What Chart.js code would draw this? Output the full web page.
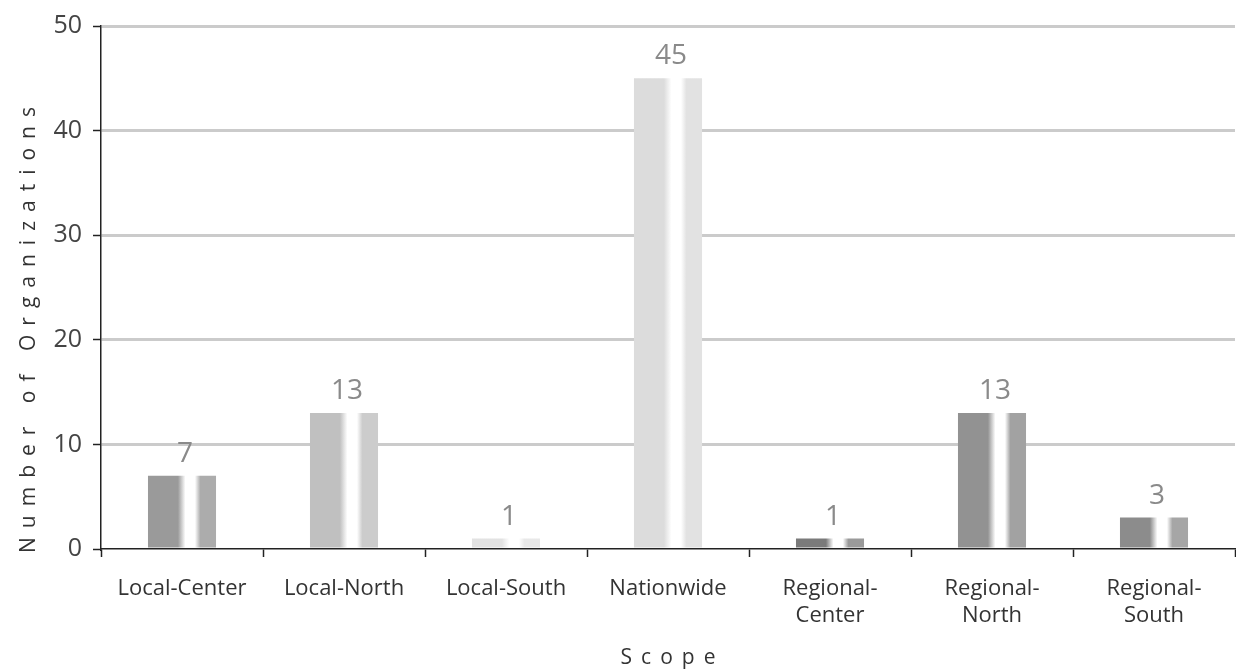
<!DOCTYPE html>
<html>
<head>
<meta charset="utf-8">
<script src="https://cdn.jsdelivr.net/npm/chart.js@4.4.1/dist/chart.umd.min.js"></script>
<style>
  html, body { margin: 0; padding: 0; background: #ffffff; }
  #wrap { width: 1236px; height: 672px; position: relative; }
</style>
</head>
<body>
<div id="wrap"><canvas id="chart" width="1236" height="672"></canvas></div>
<script>
// Scope categories (multi-line where the label wraps)
const categories = [
  ['Local-Center'],
  ['Local-North'],
  ['Local-South'],
  ['Nationwide'],
  ['Regional-', 'Center'],
  ['Regional-', 'North'],
  ['Regional-', 'South']
];

// Number of organizations per scope
const organizationCounts = [7, 13, 1, 45, 1, 13, 3];

// Value axis ticks
const yTicks = [0, 10, 20, 30, 40, 50];

// Grey tone of each bar: [left face, right face]
const barTones = [
  ['#9a9a9a', '#acacac'],
  ['#c0c0c0', '#cccccc'],
  ['#e2e2e2', '#e8e8e8'],
  ['#dcdcdc', '#e2e2e2'],
  ['#7a7a7a', '#9a9a9a'],
  ['#929292', '#a2a2a2'],
  ['#8c8c8c', '#a6a6a6']
];

const yTitle = 'Number of Organizations';
const xTitle = 'Scope';

const FONT = '"Open Sans", "Noto Sans", sans-serif';
const BAR_PCT = 0.42;
const GRID_COLOR = 'rgba(160,160,160,0.55)';

// Cylinder-like shading: solid tone, bright highlight, lighter tone on the right
function barFill(context) {
  const chart = context.chart;
  const i = context.dataIndex;
  const tone = barTones[i] || barTones[0];
  const xs = chart.scales && chart.scales.x;
  if (!chart.chartArea || !xs || i === undefined) return tone[0];
  const cx = xs.getPixelForValue(i);
  const w = (chart.chartArea.right - chart.chartArea.left) / categories.length * BAR_PCT;
  const g = chart.ctx.createLinearGradient(cx - w / 2, 0, cx + w / 2, 0);
  g.addColorStop(0.00, tone[0]);
  g.addColorStop(0.44, tone[0]);
  g.addColorStop(0.55, '#ffffff');
  g.addColorStop(0.69, '#ffffff');
  g.addColorStop(0.77, tone[1]);
  g.addColorStop(1.00, tone[1]);
  return g;
}

// Value printed above each bar
const valueLabels = {
  id: 'valueLabels',
  afterDatasetsDraw(chart) {
    const ctx = chart.ctx;
    const meta = chart.getDatasetMeta(0);
    ctx.save();
    ctx.font = '28px ' + FONT;
    ctx.fillStyle = '#8a8a8a';
    ctx.textAlign = 'center';
    ctx.textBaseline = 'alphabetic';
    meta.data.forEach((bar, i) => {
      ctx.fillText(String(organizationCounts[i]), bar.x + 3, bar.y - 14);
    });
    ctx.restore();
  }
};

// Letter-spaced axis titles
const axisTitles = {
  id: 'axisTitles',
  afterDraw(chart) {
    const ctx = chart.ctx;
    const area = chart.chartArea;
    const spacing = 9;
    ctx.save();
    ctx.font = '21px ' + FONT;
    ctx.fillStyle = '#333333';
    ctx.letterSpacing = spacing + 'px';
    ctx.textAlign = 'center';
    ctx.textBaseline = 'alphabetic';
    ctx.fillText(xTitle, (area.left + area.right) / 2 + spacing / 2, 664);
    ctx.translate(35, area.bottom + 4);
    ctx.rotate(-Math.PI / 2);
    ctx.textAlign = 'left';
    ctx.fillText(yTitle, 0, 0);
    ctx.restore();
  }
};

new Chart(document.getElementById('chart'), {
  type: 'bar',
  data: {
    labels: categories,
    datasets: [{
      data: organizationCounts,
      backgroundColor: barFill,
      borderWidth: 0,
      barPercentage: BAR_PCT,
      categoryPercentage: 1.0
    }]
  },
  options: {
    responsive: false,
    animation: false,
    devicePixelRatio: 1,
    layout: { padding: { top: 22, right: 1, bottom: 0, left: 0 } },
    plugins: {
      legend: { display: false },
      tooltip: { enabled: false }
    },
    scales: {
      x: {
        type: 'category',
        offset: true,
        afterFit(scale) { scale.height = 123; },
        grid: {
          offset: true,
          drawOnChartArea: false,
          drawTicks: true,
          tickLength: 8,
          tickColor: '#222222',
          tickWidth: 1.5
        },
        border: { display: true, color: '#222222', width: 1.5 },
        ticks: {
          autoSkip: false,
          maxRotation: 0,
          minRotation: 0,
          padding: 19,
          color: '#333333',
          font: { family: FONT, size: 22, lineHeight: 1.2 }
        }
      },
      y: {
        min: 0,
        max: 50,
        afterFit(scale) { scale.width = 101; },
        afterBuildTicks(scale) { scale.ticks = yTicks.map(v => ({ value: v })); },
        grid: {
          color: c => (c.tick && c.tick.value === 0) ? 'rgba(0,0,0,0)' : GRID_COLOR,
          lineWidth: 3,
          borderDash: [9, 4],
          drawTicks: true,
          tickLength: 8,
          tickColor: '#222222',
          tickWidth: 1.5,
          tickBorderDash: []
        },
        border: { display: true, color: '#222222', width: 1.5 },
        ticks: {
          padding: 11,
          color: '#444444',
          font: { family: FONT, size: 25 }
        }
      }
    }
  },
  plugins: [valueLabels, axisTitles]
});
</script>
</body>
</html>
